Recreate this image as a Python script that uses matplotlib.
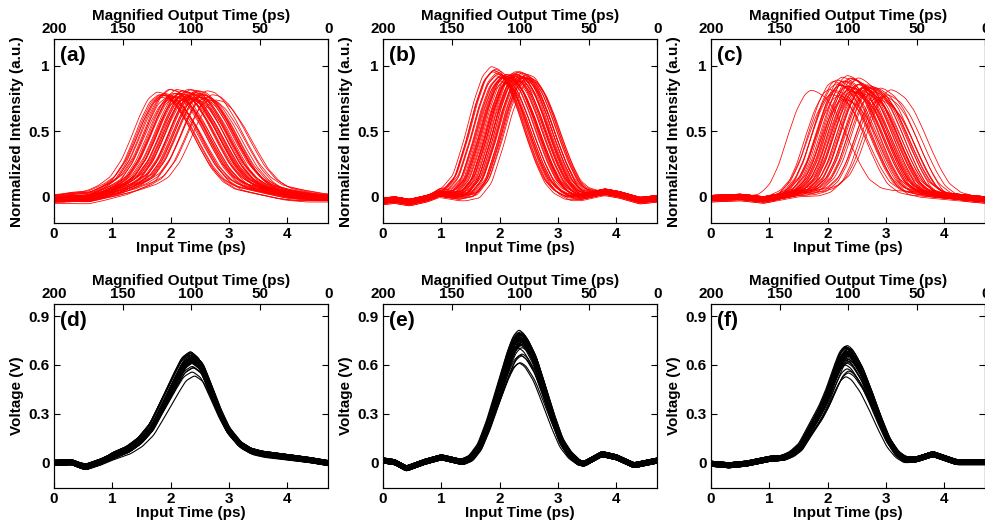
import numpy as np
import matplotlib
matplotlib.use("Agg")
import matplotlib.pyplot as plt
from matplotlib.ticker import FormatStrFormatter

plt.rcParams['font.family'] = ['Liberation Sans', 'DejaVu Sans']
plt.rcParams['font.weight'] = 'bold'
plt.rcParams['axes.labelweight'] = 'bold'

# ---- shared offsets (baseline spread of the traces) ----
TOP_OFFSETS = [0.01, -0.02, 0.00, 0.02, -0.01, 0.01, -0.03, 0.00, 0.02, -0.01,
               -0.02, 0.01, 0.00, 0.02, -0.01, 0.01, -0.02, 0.00, 0.01, -0.01,
               0.02, 0.00, -0.02, 0.01, -0.01, 0.00, 0.02, -0.02, 0.01, 0.00,
               -0.01, 0.02, -0.02, 0.01, 0.00, -0.01, 0.01, -0.03, 0.00, 0.02,
               -0.01, 0.01, 0.00, -0.02, 0.02, -0.01, 0.00, 0.01, -0.02, 0.01]
BOTTOM_OFFSETS = [0.015, -0.015, 0.0, 0.008, -0.008, 0.015, -0.015, 0.0, 0.008, -0.015,
                  0.015, 0.0, -0.008, 0.008, -0.015, 0.015, 0.0, -0.008, 0.015, -0.015,
                  0.008, 0.0, -0.015, 0.015, -0.008, 0.0, 0.015, -0.015, 0.008, 0.0,
                  -0.008, 0.015, -0.015, 0.0, 0.008, -0.008, 0.015, 0.0, -0.015, 0.008]

# ---- (a) ----
A_BASE_X = [0, 0.3, 0.6, 0.9, 1.5, 3.5, 4.0, 4.7]
A_BASE_Y = [-0.02, -0.02, -0.035, -0.02, 0.0, 0.0, -0.01, -0.01]
A_PULSE_X = [-2.2, -1.7, -1.3, -1.0, -0.8, -0.6, -0.45, -0.3, -0.15, 0, 0.15, 0.3, 0.5, 0.7, 0.9, 1.1, 1.3, 1.6, 2.0, 2.4]
A_PULSE_Y = [0.0, 0.03, 0.07, 0.13, 0.2, 0.36, 0.55, 0.76, 0.93, 1.0, 0.98, 0.9, 0.72, 0.5, 0.3, 0.17, 0.1, 0.06, 0.02, 0.0]
A_CENTERS = [1.76, 1.79, 1.82, 1.85, 1.88, 1.90, 1.93, 1.95, 1.98, 2.00,
             2.03, 2.05, 2.07, 2.09, 2.11, 2.13, 2.15, 2.17, 2.19, 2.21,
             2.22, 2.24, 2.26, 2.28, 2.29, 2.31, 2.33, 2.35, 2.37, 2.38,
             2.40, 2.42, 2.44, 2.46, 2.48, 2.50, 2.52, 2.55, 2.58, 2.61,
             2.65, 2.70, 2.76, 1.83, 1.96, 2.06, 2.18, 2.27, 2.36, 2.47]
A_GAINS = [0.79, 0.80, 0.78, 0.76, 0.80, 0.77, 0.79, 0.74, 0.80, 0.78,
           0.81, 0.76, 0.79, 0.80, 0.75, 0.78, 0.81, 0.77, 0.80, 0.79,
           0.73, 0.80, 0.78, 0.81, 0.76, 0.79, 0.80, 0.77, 0.78, 0.80,
           0.75, 0.79, 0.78, 0.80, 0.76, 0.79, 0.77, 0.78, 0.76, 0.79,
           0.75, 0.77, 0.74, 0.78, 0.80, 0.77, 0.81, 0.76, 0.80, 0.78]

# ---- (b) ----
B_BASE_X = [0, 0.2, 0.45, 0.75, 0.97, 1.3, 1.6, 3.0, 3.4, 3.8, 4.05, 4.4, 4.7]
B_BASE_Y = [-0.03, -0.02, -0.04, -0.01, 0.025, 0.0, -0.005, 0.0, 0.0, 0.04, 0.02, -0.025, -0.01]
B_PULSE_X = [-1.1, -0.85, -0.65, -0.45, -0.3, -0.15, 0, 0.15, 0.3, 0.45, 0.6, 0.75, 0.9, 1.05, 1.25]
B_PULSE_Y = [0.0, 0.03, 0.15, 0.45, 0.72, 0.92, 1.0, 0.97, 0.86, 0.68, 0.47, 0.28, 0.13, 0.05, 0.0]
B_CENTERS = [1.85, 1.87, 1.89, 1.91, 1.93, 1.95, 1.97, 1.99, 2.01, 2.03,
             2.05, 2.07, 2.09, 2.10, 2.12, 2.14, 2.15, 2.17, 2.18, 2.20,
             2.21, 2.23, 2.24, 2.26, 2.27, 2.29, 2.30, 2.32, 2.33, 2.35,
             2.36, 2.38, 2.40, 2.42, 2.44, 2.46, 2.48, 2.51, 1.88, 1.94,
             2.00, 2.06, 2.11, 2.16, 2.22, 2.28, 2.31, 2.37, 2.41, 2.45]
B_GAINS = [0.99, 0.98, 0.97, 0.96, 0.94, 0.93, 0.95, 0.92, 0.91, 0.93,
           0.90, 0.92, 0.94, 0.91, 0.93, 0.89, 0.92, 0.94, 0.90, 0.93,
           0.91, 0.94, 0.92, 0.95, 0.90, 0.93, 0.94, 0.91, 0.95, 0.92,
           0.93, 0.90, 0.94, 0.92, 0.91, 0.93, 0.90, 0.92, 0.97, 0.93,
           0.90, 0.92, 0.94, 0.91, 0.93, 0.95, 0.92, 0.94, 0.91, 0.93]

# ---- (c) ----
C_BASE_X = [0, 0.5, 0.9, 1.5, 2.5, 3.5, 4.0, 4.7]
C_BASE_Y = [-0.01, 0.0, -0.02, 0.03, 0.05, 0.03, 0.01, -0.02]
C_PULSE_X = [-1.1, -0.9, -0.7, -0.55, -0.4, -0.25, -0.1, 0, 0.1, 0.25, 0.4, 0.55, 0.7, 0.85, 1.0, 1.2, 1.4]
C_PULSE_Y = [0.0, 0.03, 0.13, 0.3, 0.56, 0.8, 0.96, 1.0, 0.98, 0.92, 0.8, 0.62, 0.42, 0.24, 0.1, 0.02, 0.0]
C_CENTERS = [1.71, 2.02, 2.06, 2.09, 2.12, 2.15, 2.18, 2.20, 2.22, 2.25,
             2.27, 2.29, 2.31, 2.33, 2.35, 2.37, 2.39, 2.41, 2.43, 2.45,
             2.47, 2.49, 2.51, 2.53, 2.55, 2.57, 2.59, 2.61, 2.63, 2.66,
             2.69, 2.72, 2.75, 2.78, 2.82, 2.86, 2.90, 2.95, 3.01, 3.08,
             2.14, 2.24, 2.34, 2.44, 2.52, 2.60, 2.68, 2.76, 2.88, 2.40]
C_GAINS = [0.77, 0.80, 0.74, 0.82, 0.78, 0.84, 0.76, 0.81, 0.79, 0.85,
           0.72, 0.83, 0.80, 0.86, 0.78, 0.85, 0.81, 0.76, 0.84, 0.79,
           0.82, 0.75, 0.83, 0.80, 0.78, 0.82, 0.76, 0.81, 0.79, 0.74,
           0.80, 0.77, 0.82, 0.75, 0.79, 0.73, 0.78, 0.76, 0.74, 0.76,
           0.83, 0.86, 0.80, 0.77, 0.84, 0.79, 0.81, 0.78, 0.72, 0.85]

# ---- (d) ----
D_BASE_X = [0, 0.3, 0.55, 0.8, 1.0, 4.0, 4.7]
D_BASE_Y = [-0.005, 0.0, -0.035, -0.02, 0.0, 0.0, -0.01]
D_PULSE_X = [-2.4, -1.9, -1.4, -1.1, -0.9, -0.7, -0.5, -0.3, -0.15, 0, 0.15, 0.3, 0.45, 0.6, 0.8, 1.0, 1.2, 1.6, 2.0, 2.4]
D_PULSE_Y = [0.0, 0.0, 0.05, 0.12, 0.2, 0.33, 0.55, 0.78, 0.94, 1.0, 0.93, 0.72, 0.5, 0.32, 0.18, 0.11, 0.08, 0.05, 0.03, 0.0]
D_CENTERS = [2.35, 2.39, 2.37, 2.34, 2.40, 2.37, 2.35, 2.39, 2.41, 2.37,
             2.34, 2.39, 2.35, 2.40, 2.37, 2.33, 2.39, 2.35, 2.37, 2.40,
             2.35, 2.39, 2.37, 2.34, 2.41, 2.37, 2.35, 2.39, 2.37, 2.40,
             2.35, 2.34, 2.39, 2.37, 2.40, 2.35, 2.39, 2.37, 2.41, 2.39]
D_GAINS = [0.66, 0.65, 0.64, 0.67, 0.63, 0.65, 0.66, 0.62, 0.64, 0.65,
           0.67, 0.63, 0.66, 0.64, 0.61, 0.65, 0.66, 0.63, 0.64, 0.67,
           0.62, 0.65, 0.64, 0.66, 0.63, 0.65, 0.60, 0.64, 0.66, 0.65,
           0.63, 0.67, 0.64, 0.62, 0.65, 0.66, 0.57, 0.56, 0.55, 0.58]

# ---- (e) ----
E_BASE_X = [0, 0.2, 0.4, 0.7, 1.0, 1.35, 3.3, 3.45, 3.75, 4.0, 4.3, 4.7]
E_BASE_Y = [0.01, 0.0, -0.04, 0.0, 0.03, 0.0, 0.0, -0.01, 0.05, 0.03, -0.02, 0.01]
E_PULSE_X = [-1.0, -0.85, -0.7, -0.55, -0.35, -0.2, -0.1, 0, 0.1, 0.25, 0.4, 0.55, 0.7, 0.85, 1.0]
E_PULSE_Y = [0.0, 0.03, 0.12, 0.3, 0.6, 0.83, 0.95, 1.0, 0.96, 0.82, 0.6, 0.37, 0.17, 0.06, 0.0]
E_CENTERS = [2.34, 2.37, 2.33, 2.38, 2.35, 2.32, 2.37, 2.35, 2.39, 2.33,
             2.37, 2.35, 2.38, 2.32, 2.35, 2.37, 2.33, 2.38, 2.35, 2.37,
             2.33, 2.35, 2.39, 2.37, 2.32, 2.35, 2.38, 2.33, 2.37, 2.35,
             2.38, 2.33, 2.37, 2.35, 2.32, 2.38, 2.35, 2.37, 2.33, 2.35]
E_GAINS = [0.78, 0.76, 0.80, 0.74, 0.77, 0.79, 0.75, 0.81, 0.76, 0.78,
           0.73, 0.77, 0.80, 0.75, 0.79, 0.76, 0.82, 0.74, 0.78, 0.77,
           0.75, 0.79, 0.76, 0.73, 0.78, 0.80, 0.77, 0.75, 0.79, 0.76,
           0.72, 0.78, 0.74, 0.77, 0.70, 0.68, 0.65, 0.66, 0.63, 0.61]

# ---- (f) ----
F_BASE_X = [0, 0.3, 0.6, 1.0, 1.4, 3.3, 3.55, 3.8, 4.2, 4.7]
F_BASE_Y = [-0.01, -0.02, -0.01, 0.02, 0.03, 0.0, 0.02, 0.05, 0.0, 0.0]
F_PULSE_X = [-1.1, -0.95, -0.8, -0.6, -0.45, -0.33, -0.2, -0.1, 0, 0.1, 0.25, 0.4, 0.55, 0.7, 0.85, 1.0, 1.15]
F_PULSE_Y = [0.0, 0.03, 0.1, 0.3, 0.45, 0.6, 0.8, 0.94, 1.0, 0.96, 0.82, 0.62, 0.4, 0.2, 0.08, 0.02, 0.0]
F_CENTERS = [2.32, 2.35, 2.31, 2.36, 2.33, 2.30, 2.35, 2.33, 2.37, 2.31,
             2.35, 2.33, 2.36, 2.30, 2.33, 2.35, 2.31, 2.36, 2.33, 2.35,
             2.31, 2.33, 2.37, 2.35, 2.30, 2.33, 2.36, 2.31, 2.35, 2.33,
             2.36, 2.31, 2.35, 2.33, 2.30, 2.36, 2.33, 2.35, 2.31, 2.33]
F_GAINS = [0.68, 0.66, 0.70, 0.64, 0.67, 0.69, 0.65, 0.71, 0.66, 0.68,
           0.63, 0.67, 0.70, 0.65, 0.69, 0.66, 0.62, 0.68, 0.67, 0.64,
           0.69, 0.66, 0.63, 0.68, 0.70, 0.67, 0.65, 0.69, 0.66, 0.61,
           0.68, 0.64, 0.67, 0.60, 0.58, 0.56, 0.55, 0.54, 0.53, 0.62]

t = np.linspace(0, 4.7, 471)
kernel = np.hanning(13)
kernel = kernel / kernel.sum()


def make_trace(center, gain, offset, base_x, base_y, pulse_x, pulse_y):
    y = np.interp(t, base_x, base_y) + offset
    y = y + gain * np.interp(t - center, pulse_x, pulse_y, left=0, right=0)
    padded = np.pad(y, 6, mode='edge')
    return np.convolve(padded, kernel, mode='valid')


panels = [
    ("(a)", A_BASE_X, A_BASE_Y, A_PULSE_X, A_PULSE_Y, A_CENTERS, A_GAINS, TOP_OFFSETS, 'red'),
    ("(b)", B_BASE_X, B_BASE_Y, B_PULSE_X, B_PULSE_Y, B_CENTERS, B_GAINS, TOP_OFFSETS, 'red'),
    ("(c)", C_BASE_X, C_BASE_Y, C_PULSE_X, C_PULSE_Y, C_CENTERS, C_GAINS, TOP_OFFSETS, 'red'),
    ("(d)", D_BASE_X, D_BASE_Y, D_PULSE_X, D_PULSE_Y, D_CENTERS, D_GAINS, BOTTOM_OFFSETS, 'black'),
    ("(e)", E_BASE_X, E_BASE_Y, E_PULSE_X, E_PULSE_Y, E_CENTERS, E_GAINS, BOTTOM_OFFSETS, 'black'),
    ("(f)", F_BASE_X, F_BASE_Y, F_PULSE_X, F_PULSE_Y, F_CENTERS, F_GAINS, BOTTOM_OFFSETS, 'black'),
]

fig = plt.figure(figsize=(9.85, 5.25), dpi=100)
lefts = [0.0548, 0.3888, 0.7218]
bottoms = [0.5752, 0.0705]
width, height = 0.2785, 0.3500

for i, (label, bx, by, px, py, centers, gains, offsets, color) in enumerate(panels):
    row, col = divmod(i, 3)
    ax = fig.add_axes([lefts[col], bottoms[row], width, height])
    lw = 0.55 if row == 0 else 0.8
    for c, g, o in zip(centers, gains, offsets):
        ax.plot(t, make_trace(c, g, o, bx, by, px, py), color=color, lw=lw)

    ax.set_xlim(0, 4.7)
    ax.set_xticks([0, 1, 2, 3, 4])
    if row == 0:
        ax.set_ylim(-0.2, 1.2)
        ax.set_yticks([0, 0.5, 1])
        ax.set_ylabel("Normalized Intensity (a.u.)", fontsize=11, labelpad=3)
    else:
        ax.set_ylim(-0.16, 0.975)
        ax.set_yticks([0, 0.3, 0.6, 0.9])
        ax.set_ylabel("Voltage (V)", fontsize=11, labelpad=3)
    ax.yaxis.set_major_formatter(FormatStrFormatter('%g'))
    ax.set_xlabel("Input Time (ps)", fontsize=11, labelpad=0)
    ax.tick_params(direction='in', length=4, width=0.8, labelsize=11, right=True, top=False, pad=3)
    ax.text(0.022, 0.912, label, transform=ax.transAxes, fontsize=15, fontweight='bold', va='center', ha='left')

    top = ax.twiny()
    top.set_xlim(200, 0)
    top.set_xticks([200, 150, 100, 50, 0])
    top.tick_params(direction='in', length=4, width=0.8, labelsize=11, pad=2)
    top.set_xlabel("Magnified Output Time (ps)", fontsize=11, labelpad=2)
    for a in (ax, top):
        for s in a.spines.values():
            s.set_linewidth(0.8)

fig.savefig("out.png", dpi=100)
